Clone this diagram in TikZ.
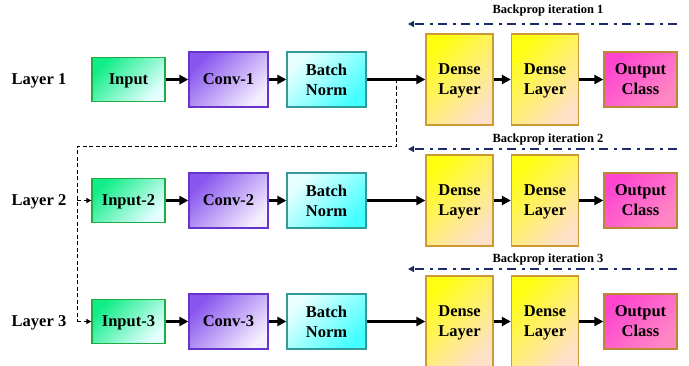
\documentclass[tikz,border=0pt]{standalone}
\usepackage{fontspec}
\setmainfont{Liberation Serif}
\usetikzlibrary{arrows.meta,positioning}
\definecolor{inB}{HTML}{22AA44}
\definecolor{inA}{HTML}{11EE88}
\definecolor{inC}{HTML}{E4FFFF}
\definecolor{cvB}{HTML}{6633CC}
\definecolor{cvA}{HTML}{8855EE}
\definecolor{cvM}{HTML}{C8B0F8}
\definecolor{cvC}{HTML}{F4EEFF}
\definecolor{bnB}{HTML}{339999}
\definecolor{bnA}{HTML}{E8FFFF}
\definecolor{bnC}{HTML}{44FFFF}
\definecolor{dnB}{HTML}{CC9933}
\definecolor{dnA}{HTML}{FFFF11}
\definecolor{dnM}{HTML}{FFFF99}
\definecolor{dnC}{HTML}{FFE0C8}
\definecolor{ouB}{HTML}{BB8833}
\definecolor{ouA}{HTML}{FF44D0}
\definecolor{ouM}{HTML}{FF0A80}
\definecolor{ouC}{HTML}{FF88C4}
\definecolor{bpC}{HTML}{1A2A6A}
\tikzset{
  blk/.style={draw, line width=1.3pt, inner sep=0pt, align=center, text depth=0pt,
    font=\fontsize{16.5}{20}\selectfont\bfseries},
  inbox/.style={blk, draw=inB, top color=inA, bottom color=inC, shading angle=45,
    minimum width=73pt, minimum height=44pt},
  cvbox/.style={blk, draw=cvB, top color=cvA, middle color=cvM, bottom color=cvC, shading angle=45,
    minimum width=79pt, minimum height=55pt},
  bnbox/.style={blk, draw=bnB, top color=bnA, bottom color=bnC, shading angle=45,
    minimum width=79pt, minimum height=55pt},
  dnbox/.style={blk, draw=dnB, top color=dnA, middle color=dnM, bottom color=dnC, shading angle=45,
    minimum width=67pt, minimum height=91pt},
  oubox/.style={blk, draw=ouB, top color=ouA, middle color=ouM, bottom color=ouC, shading angle=45,
    minimum width=73pt, minimum height=55pt},
  lay/.style={font=\fontsize{16.5}{20}\selectfont\bfseries, text depth=0pt},
  bplab/.style={font=\fontsize{12.5}{14}\selectfont\bfseries},
  fw/.style={line width=2.6pt, -{Triangle[length=9pt,width=9pt]}},
  bp/.style={line width=2pt, draw=bpC, dash pattern=on 9pt off 5pt on 3pt off 6pt,
    -{Triangle[length=6pt,width=6pt]}},
  lnk/.style={line width=1pt, dash pattern=on 4pt off 2.5pt},
  lnka/.style={lnk, -{Triangle[length=5pt,width=5pt]}}
}
\begin{document}
\begin{tikzpicture}[x=1pt,y=-1pt]
\useasboundingbox (0,0) rectangle (689,366);
\foreach \r/\dy/\inl/\cvl in {1/0/Input/Conv-1, 2/121/Input-2/Conv-2, 3/242/Input-3/Conv-3}{
  \node[lay] (L\r) at (39,79.5+\dy) {Layer \r};
  \node[inbox] (in\r) at (128.5,79.5+\dy) {\inl};
  \node[cvbox] (cv\r) at (228.5,79.5+\dy) {\cvl};
  \node[bnbox] (bn\r) at (326.5,79.5+\dy) {Batch\\Norm};
  \node[dnbox] (da\r) at (459.5,79.5+\dy) {Dense\\Layer};
  \node[dnbox] (db\r) at (545,79.5+\dy) {Dense\\Layer};
  \node[oubox] (ou\r) at (640.5,79.5+\dy) {Output\\Class};
  \draw[fw] (in\r) -- (cv\r);
  \draw[fw] (cv\r) -- (bn\r);
  \draw[fw] (bn\r) -- (da\r);
  \draw[fw] (da\r) -- (db\r);
  \draw[fw] (db\r) -- (ou\r);
}
% backprop arrows
\coordinate (bs1) at (677,24);  \coordinate (be1) at (408,24);
\coordinate (bs2) at (677,149); \coordinate (be2) at (408,149);
\coordinate (bs3) at (677,269); \coordinate (be3) at (408,269);
\draw[bp] (bs1) -- (be1);
\draw[bp] (bs2) -- (be2);
\draw[bp] (bs3) -- (be3);
\node[bplab] (bl1) at (548,10) {Backprop iteration 1};
\node[bplab] (bl2) at (548,139) {Backprop iteration 2};
\node[bplab] (bl3) at (548,259) {Backprop iteration 3};
% dashed link
\coordinate (t0) at (396,79.5);
\coordinate (t1) at (396,147);
\coordinate (t2) at (77,147);
\coordinate (t3) at (77,200.5);
\coordinate (t4) at (77,321.5);
\draw[lnk] (t0) -- (t1) -- (t2) -- (t4);
\draw[lnka] (t3) -- (in2.west);
\draw[lnka] (t4) -- (in3.west);
\end{tikzpicture}
\end{document}
